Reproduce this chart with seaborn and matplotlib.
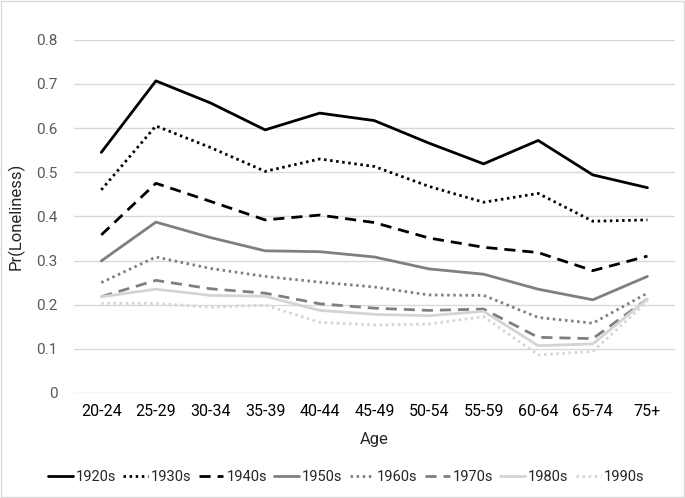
import matplotlib
matplotlib.use("Agg")
import matplotlib.pyplot as plt
import pandas as pd
import seaborn as sns

ages = ["20-24", "25-29", "30-34", "35-39", "40-44", "45-49",
        "50-54", "55-59", "60-64", "65-74", "75+"]

c1920s = [0.545, 0.707, 0.657, 0.596, 0.634, 0.617, 0.566, 0.519, 0.572, 0.494, 0.465]
c1930s = [0.460, 0.605, 0.556, 0.502, 0.530, 0.513, 0.468, 0.432, 0.452, 0.389, 0.392]
c1940s = [0.358, 0.475, 0.434, 0.392, 0.403, 0.386, 0.351, 0.330, 0.318, 0.277, 0.310]
c1950s = [0.299, 0.387, 0.352, 0.322, 0.320, 0.308, 0.281, 0.269, 0.235, 0.211, 0.264]
c1960s = [0.250, 0.308, 0.282, 0.264, 0.251, 0.240, 0.222, 0.221, 0.171, 0.158, 0.226]
c1970s = [0.218, 0.255, 0.236, 0.226, 0.202, 0.192, 0.187, 0.190, 0.126, 0.123, 0.213]
c1980s = [0.218, 0.235, 0.221, 0.219, 0.187, 0.178, 0.175, 0.185, 0.107, 0.111, 0.213]
c1990s = [0.203, 0.203, 0.194, 0.199, 0.160, 0.154, 0.156, 0.173, 0.086, 0.094, 0.207]

cohorts = ["1920s", "1930s", "1940s", "1950s", "1960s", "1970s", "1980s", "1990s"]
series = [c1920s, c1930s, c1940s, c1950s, c1960s, c1970s, c1980s, c1990s]

rows = []
for name, vals in zip(cohorts, series):
    for i, v in enumerate(vals):
        rows.append({"age": ages[i], "pos": i, "cohort": name, "p": v})
df = pd.DataFrame(rows)

palette = {"1920s": "#000000", "1930s": "#000000", "1940s": "#000000",
           "1950s": "#7f7f7f", "1960s": "#7f7f7f", "1970s": "#7f7f7f",
           "1980s": "#d4d4d4", "1990s": "#d4d4d4"}
dots = (0.9, 1.3)
dash = (4, 2.5)
dashes = {"1920s": "", "1930s": dots, "1940s": dash,
          "1950s": "", "1960s": dots, "1970s": dash,
          "1980s": "", "1990s": dots}

sns.set_style("white")
plt.rcParams["font.family"] = ["Roboto", "DejaVu Sans"]

fig = plt.figure(figsize=(6.85, 4.98), dpi=100)
ax = fig.add_axes([0.108, 0.211, 0.877, 0.709])

sns.lineplot(data=df, x="pos", y="p", hue="cohort", style="cohort",
             palette=palette, dashes=dashes, linewidth=2, ax=ax,
             hue_order=cohorts, style_order=cohorts)

ax.set_xlim(-0.5, len(ages) - 0.5)
ax.set_ylim(0, 0.8)
ax.set_xticks(range(len(ages)))
ax.set_xticklabels(ages)
ax.set_yticks([0, 0.1, 0.2, 0.3, 0.4, 0.5, 0.6, 0.7, 0.8])
ax.set_yticklabels(["0", "0.1", "0.2", "0.3", "0.4", "0.5", "0.6", "0.7", "0.8"])
ax.grid(axis="y", color="#d9d9d9", linewidth=1)
ax.set_axisbelow(True)
for s in ax.spines.values():
    s.set_visible(False)
ax.tick_params(axis="y", colors="#595959", labelsize=11, length=0, pad=12)
ax.tick_params(axis="x", colors="#000000", labelsize=11.5, length=0, pad=8)
ax.set_xlabel("Age", fontsize=12, color="#262626", labelpad=9)
ax.set_ylabel("Pr(Loneliness)", fontsize=12, color="#262626")
ax.yaxis.set_label_coords(-0.082, 0.5)

handles, labels = ax.get_legend_handles_labels()
ax.get_legend().remove()
fig.legend(handles, labels, loc="center", bbox_to_anchor=(0.505, 0.042),
           ncol=8, frameon=False, fontsize=10.5, handlelength=1.7,
           handletextpad=0.2, columnspacing=0.5)

fig.patches.append(plt.Rectangle((0.002, 0.002), 0.996, 0.996, transform=fig.transFigure,
                                 fill=False, edgecolor="#d9d9d9", linewidth=1))

fig.savefig("out.png", dpi=100)
